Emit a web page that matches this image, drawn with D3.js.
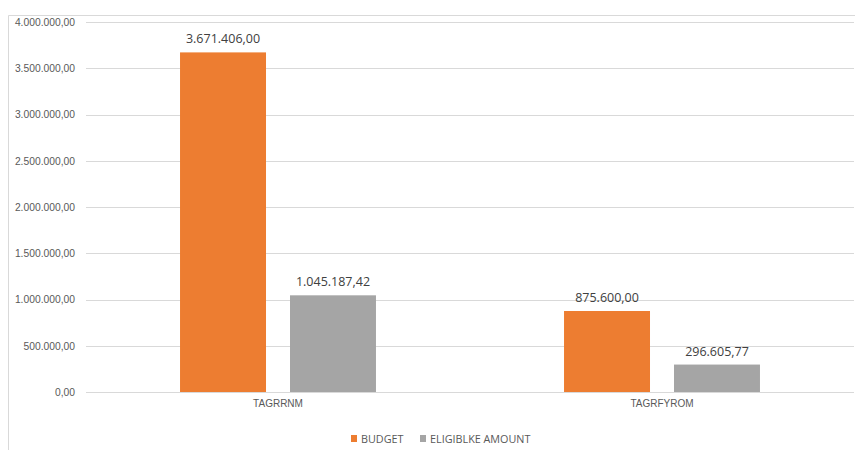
<!DOCTYPE html>
<html>
<head>
<meta charset="utf-8">
<script src="https://cdn.jsdelivr.net/npm/d3@7"></script>
<style>
  html, body { margin: 0; padding: 0; background: #fff; }
  svg { display: block; }
</style>
</head>
<body>
<svg id="chart" width="855" height="450"></svg>
<script>
// Data
const categories = ["TAGRRNM", "TAGRFYROM"];
const seriesNames = ["BUDGET", "ELIGIBLKE AMOUNT"];
const budget = [3671406.00, 875600.00];
const eligibleAmount = [1045187.42, 296605.77];
const yTicks = [0, 500000, 1000000, 1500000, 2000000, 2500000, 3000000, 3500000, 4000000];
const seriesColors = ["#ED7D31", "#A5A5A5"];

const seriesValues = [budget, eligibleAmount];

const svg = d3.select("#chart");
const W = 855, H = 450;
const plot = { left: 86, right: 854, top: 22, bottom: 392 };

// European number formatting: 1.234.567,89
const locale = d3.formatLocale({ decimal: ",", thousands: ".", grouping: [3], currency: ["", ""] });
const fmt = locale.format(",.2f");

// Chart frame (top and left edges)
svg.append("line").attr("x1", 8.5).attr("x2", W).attr("y1", 15.5).attr("y2", 15.5)
  .attr("stroke", "#D9D9D9").attr("stroke-width", 1);
svg.append("line").attr("x1", 8.5).attr("x2", 8.5).attr("y1", 15.5).attr("y2", H)
  .attr("stroke", "#D9D9D9").attr("stroke-width", 1);

const y = d3.scaleLinear().domain([0, 4000000]).range([plot.bottom, plot.top]);
const x0 = d3.scaleBand().domain(categories).range([plot.left, plot.right]).padding(0);
const x1 = d3.scaleBand().domain(seriesNames).range([0, x0.bandwidth()])
  .paddingInner(24 / 110).paddingOuter(0.855);

// Gridlines
svg.append("g").selectAll("line").data(yTicks).join("line")
  .attr("x1", plot.left).attr("x2", plot.right)
  .attr("y1", d => Math.round(y(d)) + 0.5).attr("y2", d => Math.round(y(d)) + 0.5)
  .attr("stroke", "#D9D9D9").attr("stroke-width", 1);

// Y axis labels
const yAxis = d3.axisLeft(y).tickValues(yTicks).tickFormat(fmt).tickSize(0).tickPadding(0);
const yG = svg.append("g").attr("transform", `translate(75,0)`).call(yAxis);
yG.select(".domain").remove();
yG.selectAll("text")
  .attr("font-family", "'Liberation Sans', Arial, sans-serif")
  .attr("font-size", 10.3).attr("fill", "#595959");

// X axis labels
const xAxis = d3.axisBottom(x0).tickSize(0).tickPadding(0);
const xG = svg.append("g").attr("transform", `translate(0,${plot.bottom + 8})`).call(xAxis);
xG.select(".domain").remove();
xG.selectAll("text")
  .attr("font-family", "'Liberation Sans', Arial, sans-serif")
  .attr("font-size", 10).attr("fill", "#595959");

// Bars
const rows = categories.map((c, i) => ({ cat: c, vals: seriesNames.map((s, j) => ({ s, j, v: seriesValues[j][i] })) }));
const groups = svg.append("g").selectAll("g").data(rows).join("g")
  .attr("transform", d => `translate(${x0(d.cat)},0)`);

groups.selectAll("rect").data(d => d.vals).join("rect")
  .attr("x", d => x1(d.s))
  .attr("width", x1.bandwidth())
  .attr("y", d => y(d.v))
  .attr("height", d => y(0) - y(d.v))
  .attr("fill", d => seriesColors[d.j]);

// Value labels
groups.selectAll("text").data(d => d.vals).join("text")
  .attr("x", d => x1(d.s) + x1.bandwidth() / 2)
  .attr("y", d => y(d.v) - 9)
  .attr("text-anchor", "middle")
  .attr("font-family", "'Open Sans', 'Noto Sans', sans-serif")
  .attr("font-size", 12.5).attr("fill", "#404040")
  .text(d => fmt(d.v));

// Legend
const legendItems = [
  { name: seriesNames[0], color: seriesColors[0], x: 351 },
  { name: seriesNames[1], color: seriesColors[1], x: 420 }
];
const lg = svg.append("g").selectAll("g").data(legendItems).join("g")
  .attr("transform", d => `translate(${d.x},435)`);
lg.append("rect").attr("width", 6).attr("height", 7).attr("fill", d => d.color);
lg.append("text").attr("x", 10).attr("y", 7.5)
  .attr("font-family", "'Open Sans', 'Noto Sans', sans-serif")
  .attr("font-size", 10.8).attr("fill", "#595959")
  .text(d => d.name);
</script>
</body>
</html>
